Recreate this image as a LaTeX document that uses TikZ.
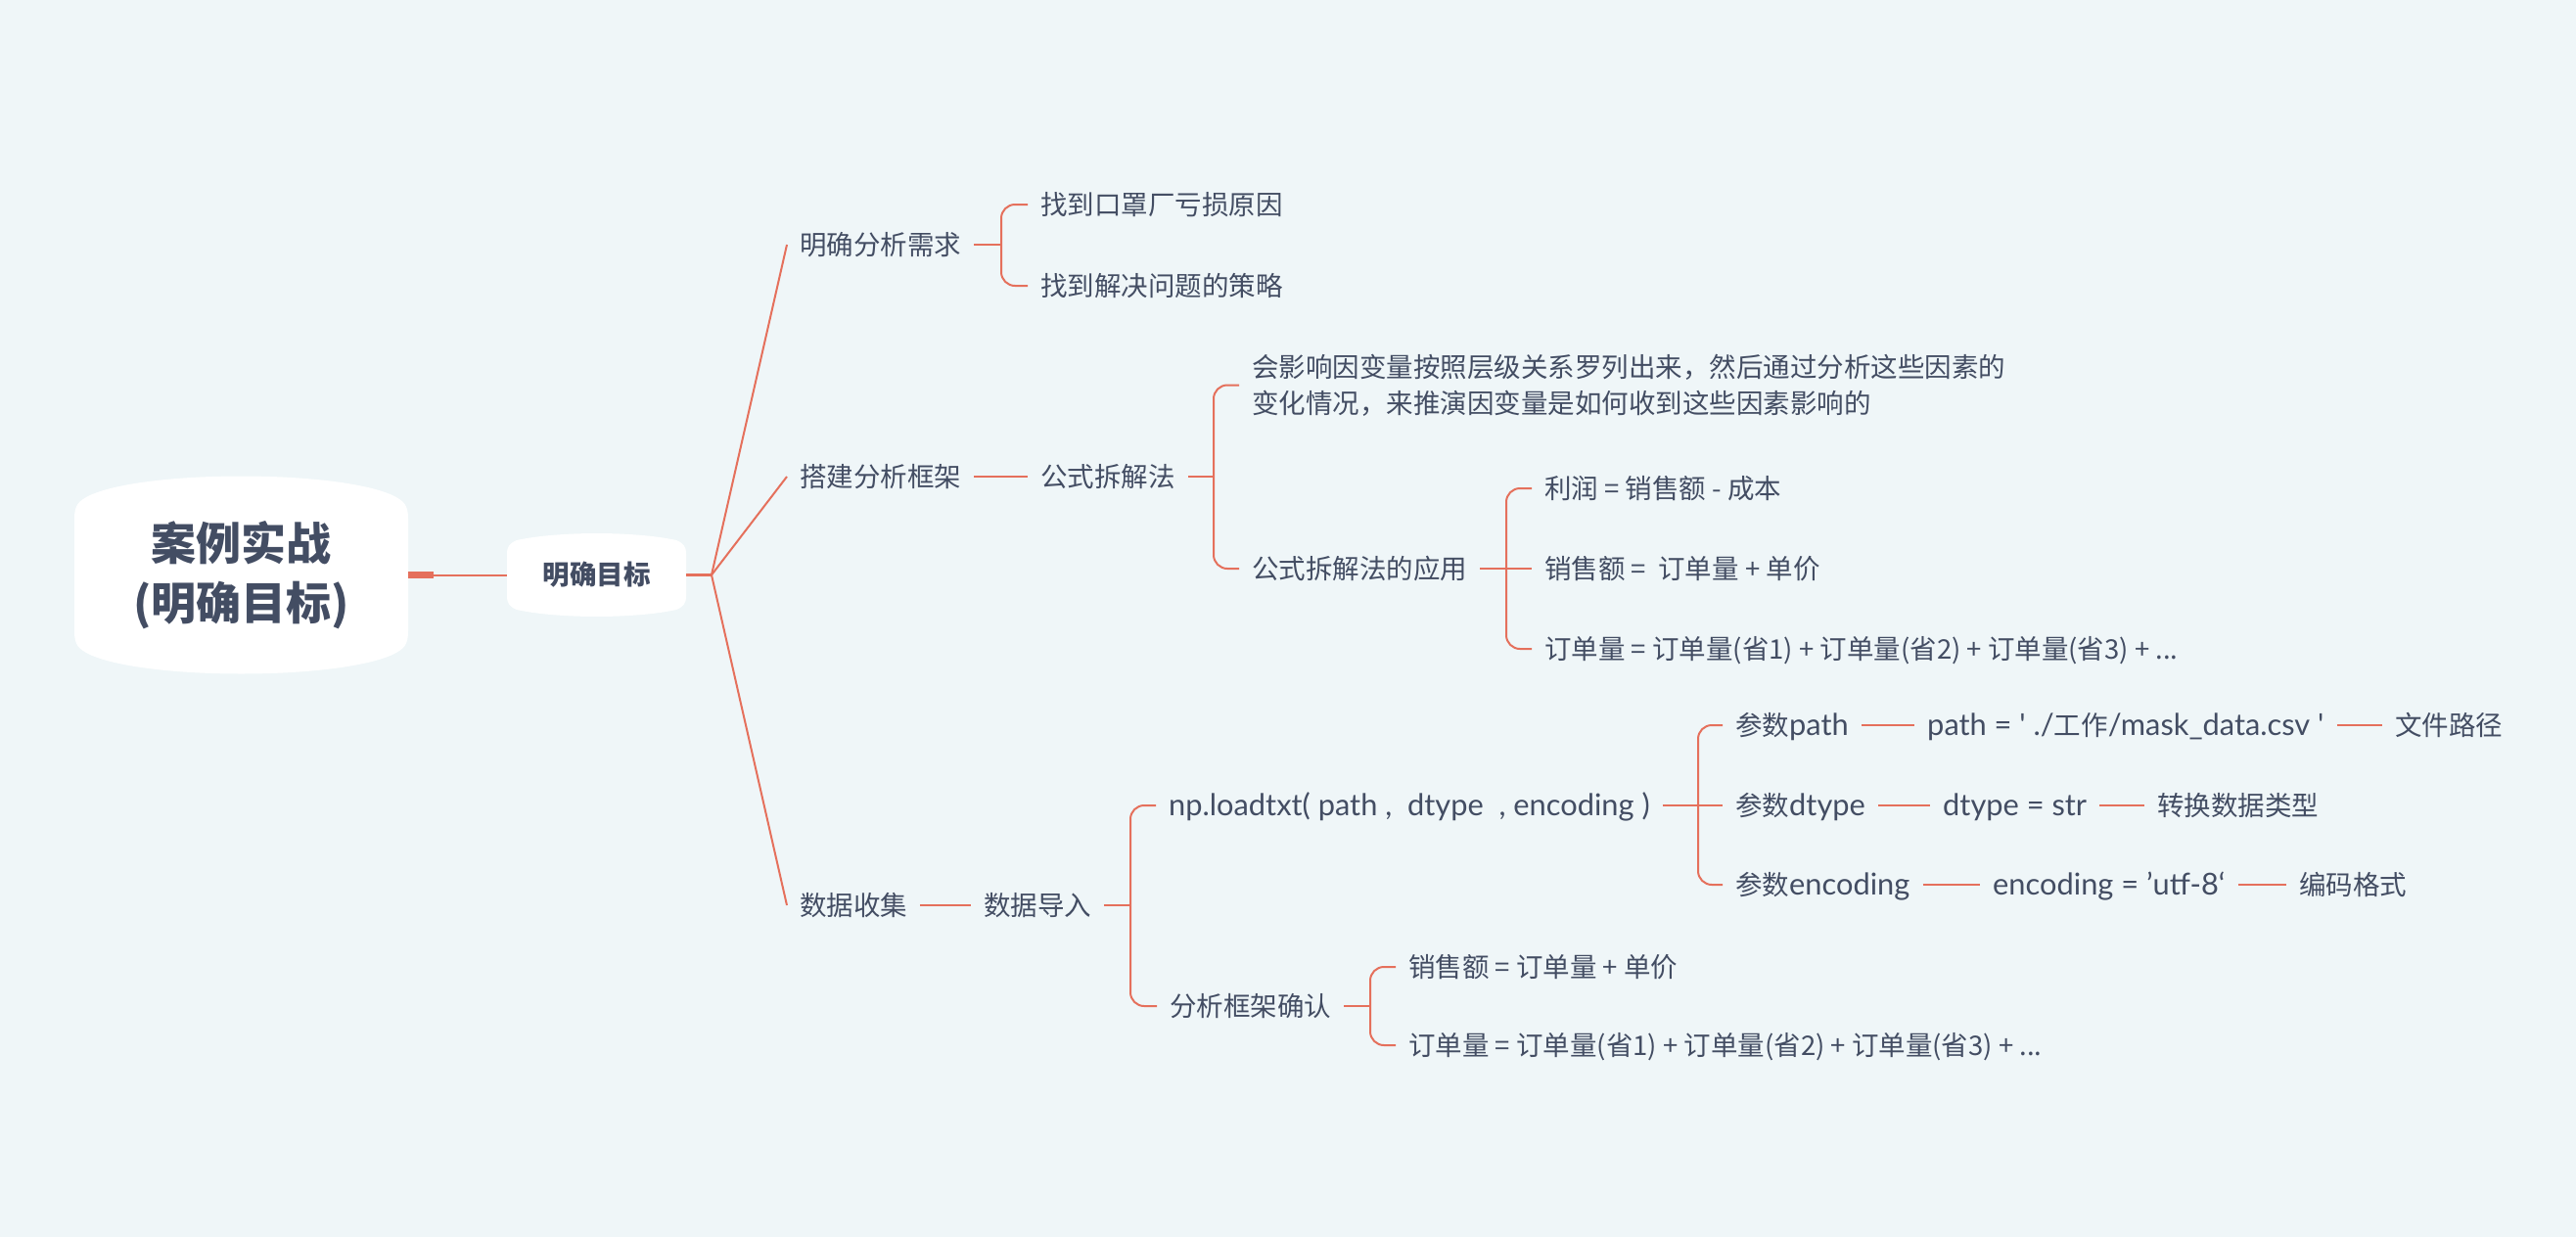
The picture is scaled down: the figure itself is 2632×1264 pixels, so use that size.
\documentclass[tikz,border=0pt]{standalone}
\usepackage{fontspec}
\setmainfont{Noto Sans CJK SC}[Ligatures=TeXOff]
\newfontfamily\latf{Lato}[Ligatures=TeXOff, Scale=1.12]
\newcommand{\lt}[1]{{\latf #1}}
\definecolor{bg}{HTML}{EFF6F8}
\definecolor{ln}{HTML}{E5705C}
\definecolor{tx}{HTML}{434D63}
\tikzset{
  txt/.style={anchor=west, inner xsep=13pt, inner ysep=0pt, text height=27pt, text depth=6pt,
    font=\fontsize{27.5}{37}\selectfont, text=tx},
  txtm/.style={anchor=west, inner xsep=13pt, inner ysep=0pt, align=left,
    font=\fontsize{27.5}{37}\selectfont, text=tx},
  lnk/.style={draw=ln, line width=2pt},
  brk/.style={draw=ln, line width=2pt, rounded corners=14pt},
}
\begin{document}
\begin{tikzpicture}[x=1pt,y=-1pt]
\fill[bg] (0,0) rectangle (2632,1264);
\useasboundingbox (0,0) rectangle (2632,1264);

% root shape
\fill[white] (76,530) .. controls (76,516) and (80,512) .. (92,506)
  .. controls (150,480) and (343,480) .. (401,506)
  .. controls (413,512) and (417,516) .. (417,530)
  -- (417,645)
  .. controls (417,659) and (413,663) .. (401,669)
  .. controls (343,695) and (150,695) .. (92,669)
  .. controls (80,663) and (76,659) .. (76,645) -- cycle;
\node[font=\fontsize{46}{61}\selectfont\bfseries, text=tx, align=center,
  minimum width=341pt, minimum height=201pt, inner sep=0pt] (root) at (246.5,587.5) {案例实战\\(明确目标)};

% goal shape
\fill[white] (518,566) .. controls (518,558) and (521,555) .. (528,552)
  .. controls (570,542.7) and (649,542.7) .. (691,552)
  .. controls (698,555) and (701,558) .. (701,566)
  -- (701,609)
  .. controls (701,617) and (698,620) .. (691,623)
  .. controls (649,632.3) and (570,632.3) .. (528,623)
  .. controls (521,620) and (518,617) .. (518,609) -- cycle;
\node[font=\fontsize{27.5}{33}\selectfont\bfseries, text=tx,
  minimum width=183pt, minimum height=85pt, inner sep=0pt] (goal) at (609.5,587.5) {明确目标};

\draw[ln, line width=7pt] (root.east) -- ++(26,0);
\draw[lnk] (root.east) -- (goal.west);
\coordinate (B) at (727,587.5);
\draw[ln, line width=3pt] (goal.east) -- (B);

% level 1
\node[txt] (n1) at (804,250) {明确分析需求};
\node[txt] (n2) at (804,487) {搭建分析框架};
\node[txt] (n3) at (804,925) {数据收集};
\draw[lnk] (B) -- (n1.west);
\draw[lnk] (B) -- (n2.west);
\draw[lnk] (B) -- (n3.west);

% branch 1
\node[txt] (c11) at (1050,209) {找到口罩厂亏损原因};
\node[txt] (c12) at (1050,292) {找到解决问题的策略};
\coordinate (b1) at (1023,250);
\draw[lnk] (n1.east) -- (b1);
\draw[brk] (c11.west) -| (b1) |- (c12.west);

% branch 2
\node[txt] (f) at (1050,487) {公式拆解法};
\draw[lnk] (n2.east) -- (f.west);
\node[txtm] (desc) at (1266,393.5) {会影响因变量按照层级关系罗列出来，然后通过分析这些因素的\\变化情况，来推演因变量是如何收到这些因素影响的};
\node[txt] (app) at (1266,581) {公式拆解法的应用};
\coordinate (b2) at (1240,487);
\draw[lnk] (f.east) -- (b2);
\draw[brk] (desc.west) -| (b2) |- (app.west);
\node[txt] (f1) at (1565,499) {利润 = 销售额 - 成本};
\node[txt] (f2) at (1565,581) {销售额 =\ \ 订单量 + 单价};
\node[txt] (f3) at (1565,663) {订单量 = 订单量(省1) + 订单量(省2) + 订单量(省3) + ...};
\coordinate (b3) at (1539,581);
\draw[lnk] (app.east) -- (b3);
\draw[brk] (f1.west) -| (b3) |- (f3.west);
\draw[lnk] (b3) -- (f2.west);

% branch 3
\node[txt] (d) at (992,925) {数据导入};
\draw[lnk] (n3.east) -- (d.west);
\node[txt] (np) at (1181,823) {\lt{np.loadtxt( path ,\ \ dtype\ \ , encoding )}};
\node[txt] (fr) at (1182,1028) {分析框架确认};
\coordinate (b4) at (1155,925);
\draw[lnk] (d.east) -- (b4);
\draw[brk] (np.west) -| (b4) |- (fr.west);

\node[txt] (p1) at (1760,741) {参数\lt{path}};
\node[txt] (p2) at (1760,823) {参数\lt{dtype}};
\node[txt] (p3) at (1760,904) {参数\lt{encoding}};
\coordinate (b5) at (1735,823);
\draw[lnk] (np.east) -- (b5);
\draw[brk] (p1.west) -| (b5) |- (p3.west);
\draw[lnk] (b5) -- (p2.west);

\node[txt] (q1) at (1956,741) {\lt{path = ' ./}工作\lt{/mask\_data.csv '}};
\node[txt] (r1) at (2434,741) {文件路径};
\node[txt] (q2) at (1972,823) {\lt{dtype = str}};
\node[txt] (r2) at (2191,823) {转换数据类型};
\node[txt] (q3) at (2023,904) {\lt{encoding = ’utf-8‘}};
\node[txt] (r3) at (2336,904) {编码格式};
\draw[lnk] (p1.east) -- (q1.west);
\draw[lnk] (q1.east) -- (r1.west);
\draw[lnk] (p2.east) -- (q2.west);
\draw[lnk] (q2.east) -- (r2.west);
\draw[lnk] (p3.east) -- (q3.west);
\draw[lnk] (q3.east) -- (r3.west);

\node[txt] (g1) at (1426,988) {销售额 = 订单量 + 单价};
\node[txt] (g2) at (1426,1068) {订单量 = 订单量(省1) + 订单量(省2) + 订单量(省3) + ...};
\coordinate (b6) at (1400,1028);
\draw[lnk] (fr.east) -- (b6);
\draw[brk] (g1.west) -| (b6) |- (g2.west);
\end{tikzpicture}
\end{document}
